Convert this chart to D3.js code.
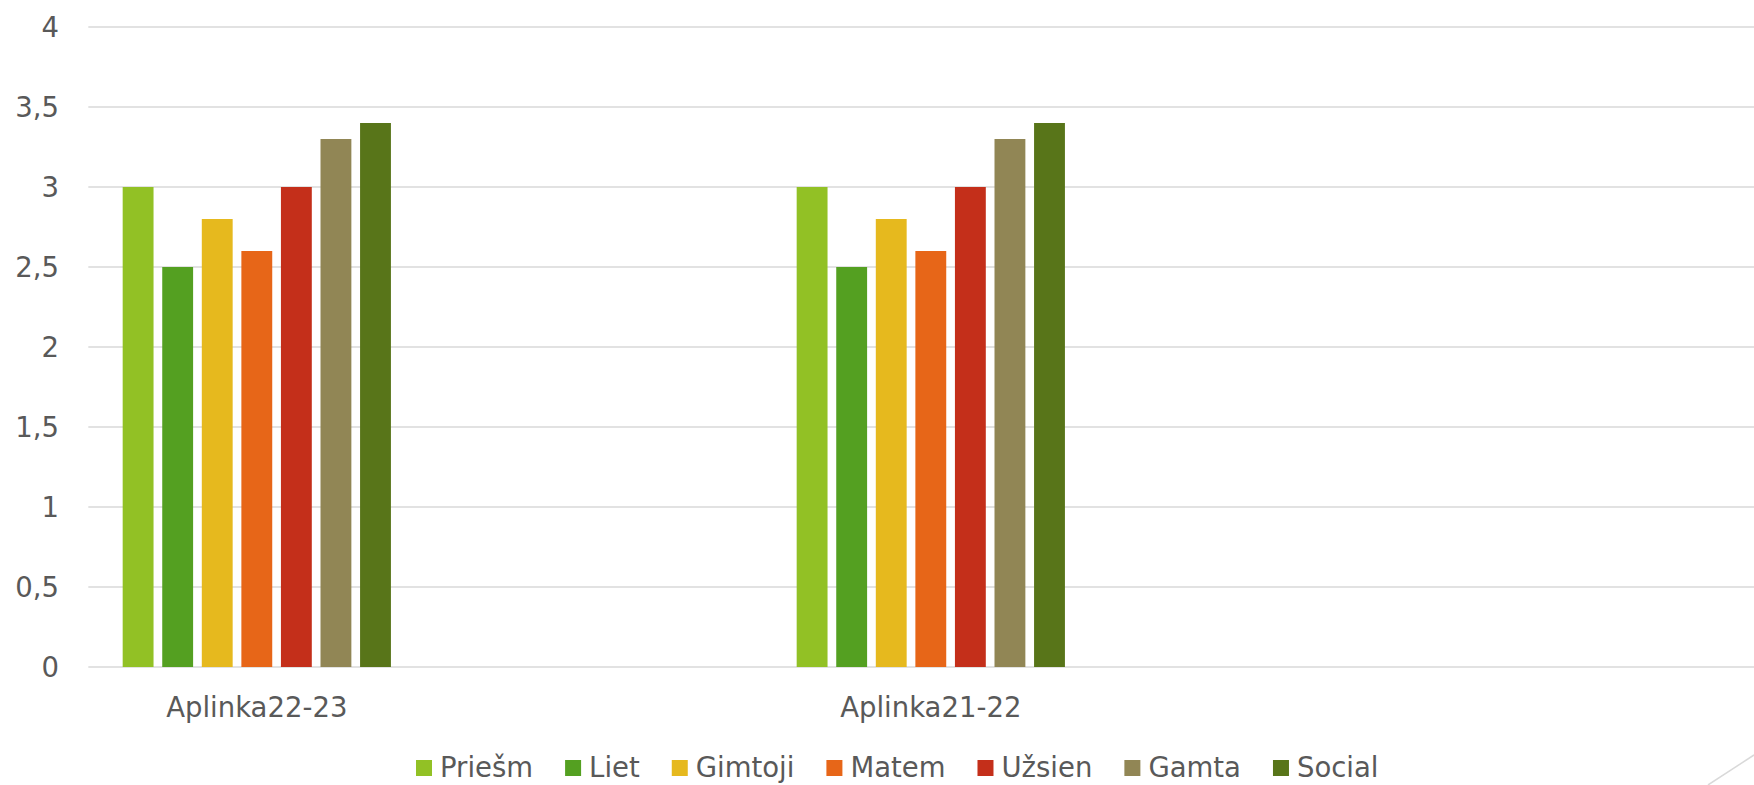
<!DOCTYPE html>
<meta charset="utf-8">
<style>
body { margin: 0; background: #fff; }
text { font-family: "DejaVu Sans", sans-serif; fill: #595959; }
.grid line { stroke: #d9d9d9; stroke-width: 1.5; }
</style>
<body>
<script src="https://cdn.jsdelivr.net/npm/d3@7"></script>
<script>
// categories (the chart is cut off on the right, there are empty slots)
var categories = ["Aplinka22-23", "", "Aplinka21-22", "", ""];
var series = ["Priešm", "Liet", "Gimtoji", "Matem", "Užsien", "Gamta", "Social"];
var colors = ["#92c125", "#54a021", "#e6b91e", "#e76618", "#c42f1a", "#918655", "#587519"];
// one row of values per category, null = empty slot
var values = [
    [3, 2.5, 2.8, 2.6, 3, 3.3, 3.4],
    null,
    [3, 2.5, 2.8, 2.6, 3, 3.3, 3.4],
    null,
    null
];
var yTicks = [0, 0.5, 1, 1.5, 2, 2.5, 3, 3.5, 4];

var W = 1754, H = 785;
var plotLeft = 88.3, slot = 337, plotTop = 27, plotBottom = 667;

var svg = d3.select("body").append("svg").attr("width", W).attr("height", H);

var lt = d3.formatLocale({decimal: ",", thousands: " ", grouping: [3], currency: ["", ""]});
var fmt = lt.format("~g");

var y = d3.scaleLinear().domain([0, 4]).range([plotBottom, plotTop]);
var x0 = d3.scaleBand().domain(d3.range(categories.length))
    .range([plotLeft, plotLeft + slot * categories.length]);
var x1 = d3.scaleBand().domain(series)
    .range([x0.bandwidth() * 0.102, x0.bandwidth() * 0.898])
    .paddingInner(0.22);

//gridlines
svg.append("g").attr("class", "grid")
    .selectAll("line").data(yTicks).enter().append("line")
    .attr("x1", plotLeft).attr("x2", W)
    .attr("y1", function(d) { return y(d); })
    .attr("y2", function(d) { return y(d); });

//y labels
svg.append("g").selectAll("text").data(yTicks).enter().append("text")
    .attr("x", 59)
    .attr("y", function(d) { return y(d); })
    .attr("dy", "0.36em")
    .attr("text-anchor", "end")
    .style("font-size", "27.5px")
    .text(function(d) { return fmt(d); });

//bars
var groups = svg.append("g").selectAll("g")
    .data(d3.range(categories.length).filter(function(i) { return values[i]; }))
    .enter().append("g")
    .attr("transform", function(i) { return "translate(" + x0(i) + ",0)"; });

groups.selectAll("rect")
    .data(function(i) { return values[i].map(function(v, j) { return {s: series[j], v: v, c: colors[j]}; }); })
    .enter().append("rect")
    .attr("x", function(d) { return x1(d.s); })
    .attr("y", function(d) { return y(d.v); })
    .attr("width", x1.bandwidth())
    .attr("height", function(d) { return y(0) - y(d.v); })
    .style("fill", function(d) { return d.c; });

//category labels
svg.append("g").selectAll("text").data(d3.range(categories.length)).enter().append("text")
    .attr("x", function(i) { return x0(i) + x0.bandwidth() / 2; })
    .attr("y", 717)
    .attr("text-anchor", "middle")
    .style("font-size", "27.5px")
    .text(function(i) { return categories[i]; });

//legend
var legend = svg.append("g").attr("transform", "translate(416,0)");
var lx = 0;
series.forEach(function(s, j) {
    var g = legend.append("g").attr("transform", "translate(" + lx + ",0)");
    g.append("rect").attr("x", 0).attr("y", 760).attr("width", 16).attr("height", 16)
        .style("fill", colors[j]);
    var t = g.append("text").attr("x", 24).attr("y", 777)
        .style("font-size", "27.5px").text(s);
    lx += 24 + t.node().getComputedTextLength() + 32;
});

//slide decoration line, bottom right
svg.append("line")
    .attr("x1", 1708).attr("y1", 785).attr("x2", 1754).attr("y2", 755)
    .style("stroke", "#d9d9d9").style("stroke-width", 1.5);
</script>
</body>
